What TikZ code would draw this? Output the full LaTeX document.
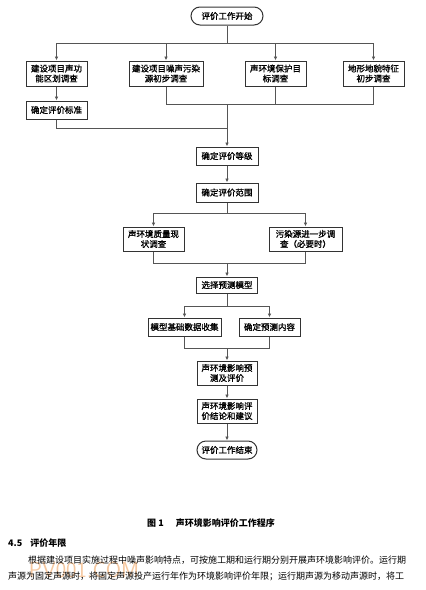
\documentclass[tikz,border=0pt]{standalone}
\usepackage{fontspec}
\setmainfont{Liberation Serif}
\newfontfamily\cjk{Noto Sans CJK SC}
\newfontfamily\cjkb[FakeBold=1.2]{Noto Sans CJK SC}
\usetikzlibrary{arrows.meta}
\XeTeXlinebreaklocale "zh"
\XeTeXlinebreakskip=0pt plus 3pt
\definecolor{lncol}{HTML}{555555}
\definecolor{bxcol}{HTML}{333333}
\definecolor{wmcol}{HTML}{F2B27A}
\begin{document}
\begin{tikzpicture}[x=1pt,y=-1pt,
  bx/.style={draw=bxcol,line width=1pt,inner sep=0pt,align=center,
    font=\cjkb\fontsize{8.5}{10}\selectfont},
  term/.style={bx,rounded corners=9pt},
  arr/.style={draw=lncol,line width=0.9pt,-{Latex[length=4pt,width=3.5pt]}},
  ln/.style={draw=lncol,line width=0.9pt}]
\useasboundingbox (0,0) rectangle (426,590);
\fill[white] (0,0) rectangle (426,590);
% nodes
\node[term,minimum width=72pt,minimum height=18pt] (start) at (227,16) {评价工作开始};
\node[bx,minimum width=61pt,minimum height=25pt] (b1) at (56.5,73.5) {建设项目声功\\能区划调查};
\node[bx,minimum width=74pt,minimum height=25pt] (b2) at (166,73.5) {建设项目噪声污染\\源初步调查};
\node[bx,minimum width=61pt,minimum height=25pt] (b3) at (275.5,73.5) {声环境保护目\\标调查};
\node[bx,minimum width=61pt,minimum height=25pt] (b4) at (373.5,73.5) {地形地貌特征\\初步调查};
\node[bx,minimum width=61pt,minimum height=18pt] (b5) at (56.5,110) {确定评价标准};
\node[bx,minimum width=62pt,minimum height=18pt] (lvl) at (227,156) {确定评价等级};
\node[bx,minimum width=62pt,minimum height=19pt] (rng) at (227,192.5) {确定评价范围};
\node[bx,minimum width=61pt,minimum height=24pt] (q1) at (153.5,239) {声环境质量现\\状调查};
\node[bx,minimum width=73pt,minimum height=24pt] (q2) at (305.5,239) {污染源进一步调\\查（必要时）};
\node[bx,minimum width=61pt,minimum height=16pt] (sel) at (227,285) {选择预测模型};
\node[bx,minimum width=73pt,minimum height=18pt] (m1) at (184.5,327) {模型基础数据收集};
\node[bx,minimum width=61pt,minimum height=18pt] (m2) at (269.5,327) {确定预测内容};
\node[bx,minimum width=60pt,minimum height=24pt] (p1) at (227,373) {声环境影响预\\测及评价};
\node[bx,minimum width=60pt,minimum height=24pt] (p2) at (227,411) {声环境影响评\\价结论和建议};
\node[term,minimum width=60pt,minimum height=18pt] (end) at (227,450) {评价工作结束};
% junctions
\coordinate (j1) at (227,43);
\coordinate (j2) at (227,104);
\coordinate (j3) at (227,128);
\coordinate (j4) at (227,213);
\coordinate (j5) at (227,263);
\coordinate (j6) at (227,306);
\coordinate (j7) at (227,348);
% connectors
\draw[ln] (start.south) -- (j1);
\draw[arr] (j1) -| (b1.north);
\draw[arr] (j1) -| (b2.north);
\draw[arr] (j1) -| (b3.north);
\draw[arr] (j1) -| (b4.north);
\draw[arr] (b1) -- (b5);
\draw[ln] (b2.south) |- (j2);
\draw[ln] (b3.south) |- (j2);
\draw[ln] (b4.south) |- (j2);
\draw[ln] (b5.south) |- (j3);
\draw[arr] (j2) -- (lvl.north);
\draw[arr] (lvl) -- (rng);
\draw[ln] (rng.south) -- (j4);
\draw[arr] (j4) -| (q1.north);
\draw[arr] (j4) -| (q2.north);
\draw[ln] (q1.south) |- (j5);
\draw[ln] (q2.south) |- (j5);
\draw[arr] (j5) -- (sel.north);
\draw[ln] (sel.south) -- (j6);
\draw[arr] (j6) -| (m1.north);
\draw[arr] (j6) -| (m2.north);
\draw[ln] (m1.south) |- (j7);
\draw[ln] (m2.south) |- (j7);
\draw[arr] (j7) -- (p1.north);
\draw[arr] (p1) -- (p2);
\draw[arr] (p2) -- (end);
% caption and text
\node[anchor=base,font=\cjk\bfseries\fontsize{9}{11}\selectfont,inner sep=0pt] (cap) at (211,526) {图 1\hspace{12pt}声环境影响评价工作程序};
\node[anchor=base west,font=\cjk\bfseries\fontsize{9}{11}\selectfont,inner sep=0pt] (sec) at (8,546) {4.5\hspace{8pt}评价年限};
\node[anchor=base,font=\sffamily\fontsize{22}{22}\selectfont,text=wmcol,opacity=0.7,inner sep=0pt] (wm) at (84,577) {PV001.COM};
\node[anchor=base west,font=\cjk\fontsize{9}{11}\selectfont,inner sep=0pt] (l1) at (28,563) {\makebox[380pt][s]{根据建设项目实施过程中噪声影响特点，可按施工期和运行期分别开展声环境影响评价。运行期}};
\node[anchor=base west,font=\cjk\fontsize{9}{11}\selectfont,inner sep=0pt] (l2) at (8,579) {\makebox[400pt][s]{声源为固定声源时，将固定声源投产运行年作为环境影响评价年限；运行期声源为移动声源时，将工}};
\end{tikzpicture}
\end{document}
